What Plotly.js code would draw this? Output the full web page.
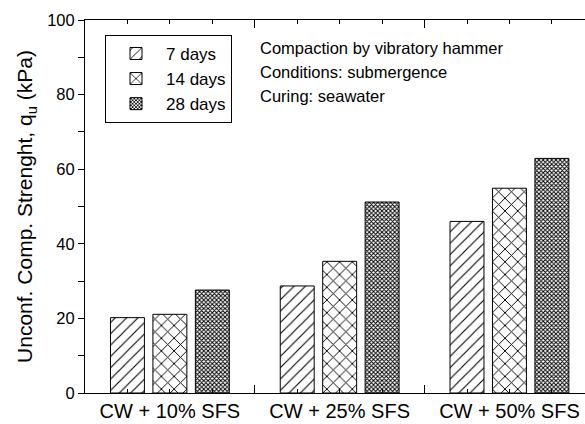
<!DOCTYPE html>
<html><head><meta charset="utf-8">
<script src="https://cdn.plot.ly/plotly-3.0.1.min.js"></script>
<style>html,body{margin:0;padding:0;background:#fff}</style>
</head><body>
<div id="chart" style="width:585px;height:424px"></div>
<script>
const groups = ['CW + 10% SFS', 'CW + 25% SFS', 'CW + 50% SFS'];
const seriesNames = ['7 days', '14 days', '28 days'];
const days7 = [20.2, 28.7, 46.0];
const days14 = [21.1, 35.3, 54.9];
const days28 = [27.6, 51.2, 62.9];
const annotationLines = ['Compaction by vibratory hammer', 'Conditions: submergence', 'Curing: seawater'];

const seriesVals = [days7, days14, days28];
const patterns = [
  {shape: '/', size: 8, solidity: 0.14},
  {shape: 'x', size: 9, solidity: 0.2},
  {shape: 'x', size: 3, solidity: 0.55}
];
// group g, bar s -> x = 4*g + s + 1
const traces = seriesVals.map((vals, s) => ({
  type: 'bar',
  name: seriesNames[s],
  x: vals.map((v, g) => 4 * g + s + 1),
  y: vals,
  width: 0.8,
  marker: {
    color: 'white',
    line: {color: 'black', width: 1},
    pattern: Object.assign({fgcolor: 'black', bgcolor: 'white'}, patterns[s])
  }
}));

const tickvals = [], ticktext = [];
for (let i = 1; i <= 11; i++) {
  if (i % 4 === 0) continue;
  tickvals.push(i);
  ticktext.push(i % 4 === 2 ? groups[(i - 2) / 4] : '');
}

const layout = {
  width: 585, height: 424,
  margin: {l: 85, r: 0, t: 20, b: 31},
  paper_bgcolor: 'white', plot_bgcolor: 'white',
  font: {family: 'Arial, Liberation Sans, sans-serif', size: 16, color: 'black'},
  showlegend: true,
  legend: {
    x: 0.04, y: 0.96, xanchor: 'left', yanchor: 'top',
    bordercolor: 'black', borderwidth: 1, bgcolor: 'white',
    font: {size: 17}, traceorder: 'normal', itemwidth: 50
  },
  xaxis: {
    range: [0, 11.78], showgrid: false, zeroline: false,
    showline: true, linecolor: 'black', linewidth: 1, mirror: 'ticks',
    tickmode: 'array', tickvals: tickvals, ticktext: ticktext,
    ticks: 'inside', ticklen: 4, tickcolor: 'black',
    minor: {tickmode: 'array', tickvals: [4, 8], ticks: 'inside', ticklen: 8, tickcolor: 'black', showgrid: false},
    tickfont: {size: 20}
  },
  yaxis: {
    range: [0, 100], showgrid: false, zeroline: false,
    showline: true, linecolor: 'black', linewidth: 1,
    tickmode: 'array', tickvals: [0, 20, 40, 60, 80, 100],
    ticks: 'outside', ticklen: 6, tickcolor: 'black',
    minor: {tickmode: 'array', tickvals: [10, 30, 50, 70, 90], ticks: 'outside', ticklen: 6, tickcolor: 'black', showgrid: false},
    tickfont: {size: 16.5},
    title: {text: 'Unconf. Comp. Strenght, q<sub>u</sub> (kPa)', font: {size: 21}, standoff: 8}
  },
  bargap: 0,
  annotations: annotationLines.map((t, i) => ({
    xref: 'paper', yref: 'paper', x: 0.345, y: 0.925 - i * 0.064,
    xanchor: 'left', yanchor: 'middle', text: t, showarrow: false,
    font: {size: 16.5}
  }))
};

Plotly.newPlot('chart', traces, layout, {displayModeBar: false, staticPlot: true});
</script>
</body></html>
